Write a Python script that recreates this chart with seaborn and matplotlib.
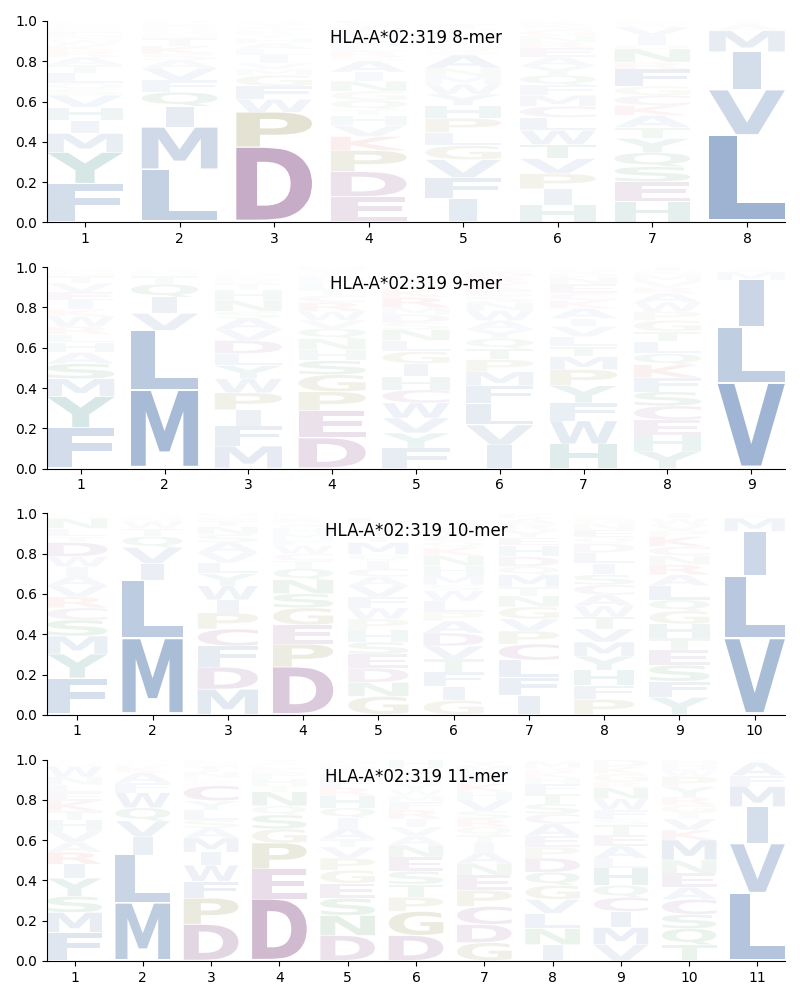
import matplotlib
matplotlib.use("Agg")
import matplotlib.pyplot as plt
import seaborn as sns
from matplotlib.font_manager import FontProperties
from matplotlib.patches import PathPatch
from matplotlib.textpath import TextPath
from matplotlib.transforms import Affine2D

# letters of each position, bottom to top, and the height of each one
letters_8 = ["FYMIHVSQLTARKWNEDCGP", "LMIQFVASKTNGDEP", "DPWFGMVILAHYKSTQ", "EDPKVHTQGNIASRLMFWYC",
             "IFVGLPHYWMNASQKREDCT", "HIPVTWLCMFQYAERNGSK", "HESQYTAKCGFRNDIVWL", "LVIMAT"]
heights_8 = [[.19, .155, .095, .065, .065, .06, .03, .03, .05, .04, .04, .03, .03, .025, .02, .02, .015, .015, .015, .01],
             [.26, .21, .105, .07, .06, .06, .04, .03, .04, .04, .02, .02, .015, .015, .015],
             [.37, .175, .065, .065, .055, .03, .03, .04, .03, .03, .025, .02, .02, .015, .015, .015],
             [.125, .125, .105, .07, .055, .05, .03, .045, .045, .05, .045, .055, .02, .03, .025, .03, .03, .03, .02, .02],
             [.115, .105, .09, .07, .065, .07, .065, .055, .05, .04, .04, .065, .02, .02, .02, .02, .02, .015, .015, .025],
             [.085, .08, .075, .075, .07, .07, .065, .055, .055, .05, .05, .045, .045, .045, .03, .03, .03, .025, .02],
             [.1, .1, .075, .07, .07, .055, .06, .05, .05, .045, .085, .035, .065, .02, .045, .045, .015, .015],
             [.43, .225, .19, .105, .03, .02]]

letters_9 = ["FYMSAHLRWKIEVTNGP", "MLVIQTNGA", "MFIPWYLDVASNHTRKGEC", "DEPGSHNQVWRCTLFKYM",
             "FYVWCHIGLNSDMRKEAPT", "IVLFMPTQYAWNSEKRDG", "HWFYPMTLVIAKCENDQG", "YHECSFKQLTGPWARVMNI", "VLIMAT"]
heights_9 = [[.2, .155, .09, .075, .055, .05, .04, .04, .05, .035, .045, .04, .045, .035, .02, .015, .01],
             [.385, .3, .085, .08, .065, .04, .02, .015, .01],
             [.11, .1, .08, .085, .07, .065, .06, .065, .055, .055, .035, .055, .05, .03, .02, .02, .015, .01, .01],
             [.15, .135, .095, .085, .07, .055, .055, .05, .04, .045, .045, .035, .03, .03, .025, .02, .02, .015],
             [.1, .075, .075, .075, .065, .065, .065, .06, .055, .055, .035, .04, .035, .05, .04, .03, .02, .015, .015],
             [.115, .1, .105, .09, .07, .06, .055, .05, .045, .045, .05, .04, .03, .03, .035, .03, .025, .02],
             [.12, .115, .09, .085, .08, .065, .05, .05, .05, .04, .05, .04, .035, .045, .035, .02, .02, .01],
             [.085, .08, .075, .07, .07, .07, .065, .055, .06, .05, .055, .045, .045, .045, .03, .03, .03, .02, .02],
             [.42, .28, .235, .04, .015, .01]]

letters_10 = ["FYMSCRVAIWDTLNGQ", "MLIVQTWNGS", "MDFCPIWYLVASNTGH", "DPEGSNQTCWFMHARKL", "GNDESHPWFVACIQMTKRYL",
              "GIFTVDAPLWSMHNKQEYCR", "IFLCPVGNTMQDHEYRAK", "PFHYMVTWACSILDQENGKR", "YFSETHGQLARNCKPVWI", "VLIMAT"]
heights_10 = [[.18, .12, .09, .08, .06, .055, .055, .05, .045, .05, .07, .03, .04, .05, .015, .01],
              [.375, .29, .085, .08, .055, .04, .035, .015, .015, .01],
              [.125, .11, .105, .085, .08, .065, .07, .06, .055, .05, .05, .04, .04, .03, .02, .015],
              [.235, .115, .095, .085, .07, .07, .055, .04, .035, .04, .03, .03, .03, .02, .02, .015, .015],
              [.09, .07, .07, .07, .06, .06, .055, .055, .055, .055, .045, .04, .04, .03, .06, .03, .03, .02, .015, .03],
              [.07, .07, .07, .065, .065, .065, .06, .045, .055, .05, .03, .045, .05, .05, .04, .03, .03, .03, .03, .02],
              [.095, .09, .085, .08, .065, .06, .06, .055, .045, .06, .04, .05, .055, .04, .035, .03, .03, .025],
              [.075, .07, .075, .07, .07, .065, .06, .055, .055, .05, .05, .055, .055, .045, .03, .04, .03, .025, .015, .01],
              [.085, .08, .08, .075, .06, .07, .065, .055, .07, .055, .05, .045, .045, .05, .03, .03, .03, .025],
              [.375, .31, .225, .065, .015, .01]]

letters_11 = ["FMSYIRAVHTKELNWQGC", "MLIVQWFAKNSG", "DPFWIMASLYCRKNTGE", "DEPGSQNTHFKLVY", "DNSEGPVTAIQHRFLWKM",
              "DGPTSENAVIRFMWYQCKH", "GDCPENAITQRSVHKFWMY", "INLVGQDPEACSTFHKRMW", "VMICQHLAETSFWNRGKD",
              "TQSCAENMKVIGRYPWDH", "LVIMFAT"]
heights_11 = [[.14, .1, .08, .09, .07, .06, .05, .055, .055, .045, .05, .04, .04, .04, .05, .015, .01, .01],
              [.285, .24, .09, .08, .065, .075, .05, .05, .03, .015, .01, .01],
              [.18, .13, .085, .08, .065, .07, .05, .04, .05, .045, .075, .02, .02, .03, .03, .015, .015],
              [.305, .15, .13, .07, .07, .045, .07, .03, .035, .03, .02, .015, .015, .015],
              [.125, .1, .085, .075, .065, .06, .055, .04, .055, .05, .05, .06, .04, .04, .03, .03, .02, .015],
              [.125, .12, .07, .065, .065, .07, .06, .045, .045, .04, .045, .04, .03, .03, .03, .03, .025, .025, .04],
              [.09, .09, .09, .08, .075, .06, .055, .045, .04, .04, .04, .04, .055, .04, .04, .03, .03, .03, .025],
              [.08, .08, .075, .07, .07, .065, .07, .055, .055, .06, .05, .05, .05, .05, .03, .03, .02, .03, .01],
              [.08, .085, .08, .07, .06, .085, .05, .06, .055, .05, .03, .045, .055, .055, .03, .04, .035, .035],
              [.08, .08, .07, .075, .06, .07, .065, .1, .05, .055, .03, .04, .04, .05, .05, .03, .03, .025],
              [.335, .245, .185, .1, .055, .065, .015]]

panels = [("HLA-A*02:319 8-mer", letters_8, heights_8),
          ("HLA-A*02:319 9-mer", letters_9, heights_9),
          ("HLA-A*02:319 10-mer", letters_10, heights_10),
          ("HLA-A*02:319 11-mer", letters_11, heights_11)]

# amino acid groups
group_colors = {"AVLIMFW": "#1E5096", "DEC": "#661E66", "PG": "#666000",
                "KR": "#CC1010", "STNQ": "#006A20", "HY": "#006660"}
letter_color = {aa: col for group, col in group_colors.items() for aa in group}

sns.set_theme(style="ticks", rc={"axes.edgecolor": "black", "xtick.color": "black", "ytick.color": "black",
                                 "text.color": "black", "axes.labelcolor": "black", "axes.linewidth": 0.8,
                                 "xtick.major.width": 0.8, "ytick.major.width": 0.8,
                                 "xtick.major.size": 3.5, "ytick.major.size": 3.5,
                                 "xtick.labelsize": 10, "ytick.labelsize": 10})
plt.rcParams["font.family"] = ["DejaVu Sans"]

bold = FontProperties(family="DejaVu Sans", weight="bold")


def draw_letter(ax, aa, pos, bottom, height):
    # stretch the glyph into its box, alpha follows the frequency but rarer letters fade out faster
    path = TextPath((0, 0), aa, size=1, prop=bold)
    box = path.get_extents()
    width = 0.295 if aa == "I" else 0.8
    top_gap = height * 0.035
    tr = (Affine2D().translate(-box.x0, -box.y0)
          .scale(width / box.width, (height - top_gap) / box.height)
          .translate(pos - width / 2, bottom + top_gap))
    alpha = height if height > 0.07 else height ** 1.5 / 0.07 ** 0.5
    patch = PathPatch(path, transform=tr + ax.transData, facecolor=letter_color[aa],
                      edgecolor="none", alpha=alpha)
    ax.add_patch(patch)


fig, axes = plt.subplots(4, 1, figsize=(8, 10), dpi=100)
fig.subplots_adjust(left=0.059, right=0.981, top=0.979, bottom=0.039, hspace=0.2236)

for ax, (title, letters, heights) in zip(axes, panels):
    for i, (aas, hs) in enumerate(zip(letters, heights), start=1):
        y = 0
        for aa, h in zip(aas, hs):
            draw_letter(ax, aa, i, y, h)
            y += h
    ax.set_xlim(0.6, len(letters) + 0.4)
    ax.set_ylim(0, 1)
    ax.set_xticks(range(1, len(letters) + 1))
    ax.set_yticks([0, 0.2, 0.4, 0.6, 0.8, 1.0])
    ax.set_title(title, fontsize=12, y=0.89, pad=0)
    sns.despine(ax=ax)

fig.savefig("out.png", dpi=100)
